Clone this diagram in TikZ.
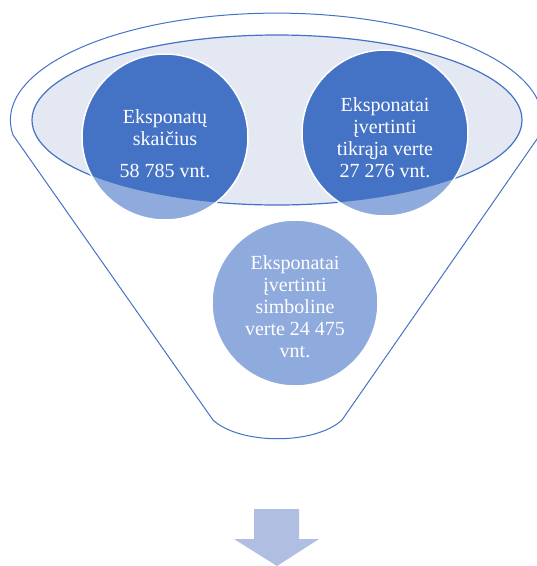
\documentclass[tikz,border=0pt]{standalone}
\usepackage{fontspec}
\setmainfont{Liberation Serif}
\definecolor{funnelblue}{HTML}{4472C4}
\definecolor{circlelight}{HTML}{8FAADC}
\definecolor{lensfill}{HTML}{E4E8F3}
\definecolor{arrowfill}{HTML}{B0BEE2}
\begin{document}
\begin{tikzpicture}
[x=1pt,y=-1pt,
  funneldecorate/.style={draw=funnelblue,line width=1pt},%
  lensdecorate/.style={draw=funnelblue,line width=1.2pt,fill=lensfill},%
  nodedecorate/.style={shape=circle,minimum size=166pt,inner sep=0pt,
    fill=circlelight,draw=white,line width=1.5pt,
    path picture={\fill[funnelblue] (lens) ellipse [x radius=245,y radius=85];}},%
  textdecorate/.style={text=white,align=center,inner sep=0pt,
    font=\fontsize{20}{22}\selectfont}]
\useasboundingbox (0,0) rectangle (537,566);
%% funnel
\coordinate (lens) at (277,120);
\draw[funneldecorate] (13,135) arc [start angle=172,end angle=368,x radius=266,y radius=107]
  -- (342,420) .. controls (315,445) and (240,445) .. (213,420) -- cycle;
\draw[lensdecorate] (lens) ellipse [x radius=245,y radius=85];
%% circles
\foreach \nodename/\x/\y/\dy/\content in {
  count/165/137/7/{Eksponatų\\skaičius\\[10pt]58 785 vnt.},
  real/385/133/5/{Eksponatai\\įvertinti\\tikrąja verte\\27 276 vnt.},
  symbolic/295/303/4/{Eksponatai\\įvertinti\\simboline\\verte 24 475\\vnt.}} {
  \node (\nodename) at (\x,\y) [nodedecorate] {};
  \node (\nodename-text) at (\x,\y+\dy) [textdecorate] {\content};
}
%% arrow
\fill[arrowfill] (254,509) -- (299,509) -- (299,539) -- (319,539) -- (277,566)
  -- (234,539) -- (254,539) -- cycle;
\end{tikzpicture}
\end{document}
